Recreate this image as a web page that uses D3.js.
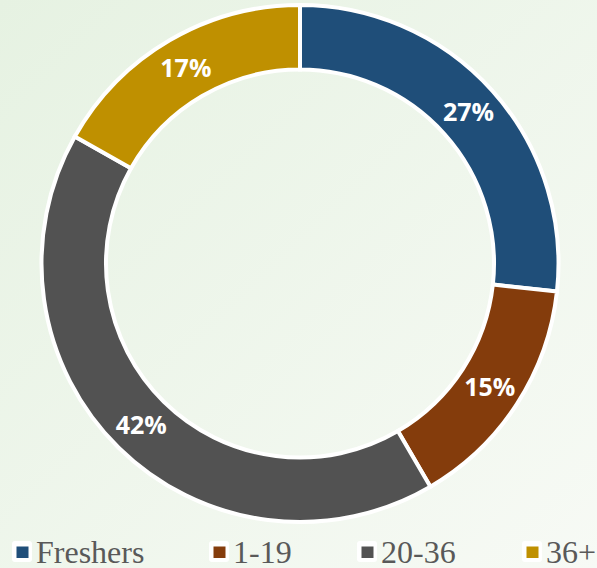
<!DOCTYPE html>
<html>
<head>
<meta charset="utf-8">
<script src="https://cdn.jsdelivr.net/npm/d3@7"></script>
<style>
html,body{margin:0;padding:0;overflow:hidden;}
svg{display:block;}
</style>
</head>
<body>
<svg id="chart" width="597" height="568"></svg>
<script>
const categories = ["Freshers", "1-19", "20-36", "36+"];
const values = [27, 15, 42, 17];
const labels = ["27%", "15%", "42%", "17%"];
const colors = ["#1F4E79", "#843C0C", "#525252", "#BF9000"];

const svg = d3.select("#chart");
const W = 597, H = 568;

const defs = svg.append("defs");
const grad = defs.append("linearGradient").attr("id", "bg")
  .attr("x1", "0").attr("y1", "0").attr("x2", "1").attr("y2", "1");
grad.append("stop").attr("offset", "0").attr("stop-color", "#e6f2e2");
grad.append("stop").attr("offset", "1").attr("stop-color", "#f7faf5");
svg.append("rect").attr("width", W).attr("height", H).attr("fill", "url(#bg)");

const cx = 300, cy = 263.5;
const pie = d3.pie().value(d => d).sort(null);
const arc = d3.arc().innerRadius(194).outerRadius(258.5);
const arcs = pie(values);

const g = svg.append("g").attr("transform", `translate(${cx},${cy})`);
g.selectAll("path.slice").data(arcs).enter().append("path")
  .attr("class", "slice")
  .attr("d", arc)
  .attr("fill", (d, i) => colors[i])
  .attr("stroke", "#ffffff")
  .attr("stroke-width", 4)
  .attr("stroke-linejoin", "miter");

g.selectAll("text.lbl").data(arcs).enter().append("text")
  .attr("class", "lbl")
  .attr("transform", d => { const c = arc.centroid(d); return `translate(${c[0]},${c[1]})`; })
  .attr("text-anchor", "middle")
  .attr("dy", "0.36em")
  .attr("font-family", "'Open Sans', sans-serif")
  .attr("font-weight", "bold")
  .attr("font-size", "25px")
  .attr("fill", "#ffffff")
  .text((d, i) => labels[i]);

// legend
const legendX = [12, 209, 357, 522];
const leg = svg.append("g");
const items = leg.selectAll("g.item").data(categories).enter().append("g")
  .attr("class", "item")
  .attr("transform", (d, i) => `translate(${legendX[i]},541)`);
items.append("rect").attr("x", 0).attr("y", 0).attr("width", 20).attr("height", 21)
  .attr("rx", 3).attr("fill", "#ffffff");
items.append("rect").attr("x", 4.5).attr("y", 5.5).attr("width", 12).attr("height", 11.5)
  .attr("fill", (d, i) => colors[i]);
items.append("text").attr("x", 24).attr("y", 22)
  .attr("font-family", "'Liberation Serif', 'Times New Roman', serif")
  .attr("font-size", "32px")
  .attr("fill", "#595959")
  .text(d => d);
</script>
</body>
</html>
